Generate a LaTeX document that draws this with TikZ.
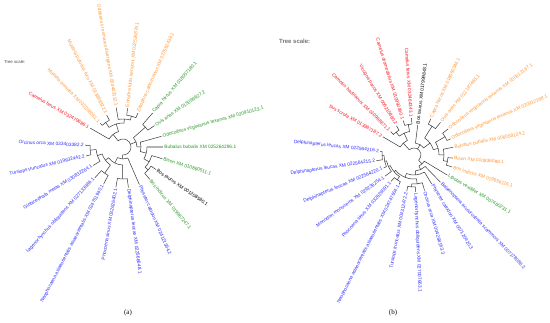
\documentclass[tikz,border=0pt]{standalone}
\usepackage{fontspec}
\setmainfont{Liberation Sans}
\newfontfamily\capfont{Liberation Serif}
\definecolor{tblue}{RGB}{45,45,255}
\definecolor{torange}{RGB}{255,150,50}
\definecolor{tred}{RGB}{250,20,30}
\definecolor{tgreen}{RGB}{40,150,40}
\definecolor{tline}{RGB}{55,55,55}
\tikzset{
  branch/.style={draw=tline, line width=0.5pt},
  lab/.style={font=\fontsize{4.8}{5}\selectfont, inner xsep=1.2pt, inner ysep=0pt},
}
\newcommand{\mkclade}[5]{\draw[branch] (#1:#2pt) -- (#1:#5pt) arc[start angle=#1, end angle=#3, radius=#5pt] -- (#3:#4pt);}
\newcommand{\leafE}[5]{\node[lab,text=#3,anchor=west,rotate=#1] (#4) at (#1:#2pt) {#5};}
\newcommand{\leafW}[5]{\node[lab,text=#3,anchor=east,rotate=#1-180] (#4) at (#1:#2pt) {#5};}
\begin{document}
\begin{tikzpicture}[x=1pt,y=1pt]
\fill[white] (0,0) rectangle (550,322);
\useasboundingbox (0,0) rectangle (550,322);

% ---------------- tree (a) ----------------
\begin{scope}[shift={(123,175)}]
\coordinate (ca) at (0,0);
\draw[branch] (128.2:16pt) -- (128.2:8pt) arc[start angle=128.2, end angle=-91.85, radius=8pt] -- (-91.85:12pt);
\draw[branch] (21:8pt) -- (21:14pt);
\mkclade{150.1}{38}{106.3}{24}{16}
\mkclade{125.3}{30}{87.3}{28}{24}
\mkclade{133.6}{33}{117}{36}{30}
\mkclade{99.8}{40}{74.8}{32}{28}
\mkclade{83.3}{39}{66.3}{37}{32}
\mkclade{41.55}{30}{0.4}{18}{14}
\mkclade{48.9}{45}{34.2}{38}{30}
\mkclade{15.5}{40}{-14.75}{24}{18}
\mkclade{0}{24}{-29.5}{30}{24}
\draw[line width=1.8pt, draw=gray!60] (0:24pt) -- (0:40pt);
\mkclade{-16.6}{41}{-42.35}{34}{30}
\mkclade{-34.3}{40}{-50.4}{42}{34}
\mkclade{-66.5}{41}{-117.2}{18}{12}
\mkclade{-91.2}{32}{-143.2}{22}{18}
\mkclade{-82.4}{41}{-100}{41}{32}
\mkclade{-125}{32}{-161.4}{27}{22}
\mkclade{-117.6}{42}{-132.4}{42}{32}
\mkclade{-148.2}{35}{-174.55}{33}{27}
\mkclade{-166.4}{38}{-182.7}{38}{33}
\leafW{150.1}{38}{tred}{a1}{Camelus ferus XM 032479686.1}
\leafW{133.6}{33}{torange}{a2}{Mustela erminea XM 032208051.1}
\leafW{117}{36}{torange}{a3}{Mustela putorius furo XM 013898322.1}
\leafW{99.8}{40}{torange}{a4}{Odobenus rosmarus divergens XM 004403112.1}
\leafE{83.3}{39}{torange}{a5}{Enhydra lutris kenyoni XM 022526879.1}
\leafE{66.3}{37}{torange}{a6}{Zalophus californianus XM 027592438.1}
\leafE{48.9}{45}{tgreen}{a7}{Capra hircus XM 018057180.1}
\leafE{34.2}{38}{tgreen}{a8}{Ovis aries XM 015099627.2}
\leafE{15.5}{40}{tgreen}{a9}{Odocoileus virginianus texanus XM 020910123.1}
\leafE{0}{40}{tgreen}{a10}{Bubalus bubalis XM 025264296.1}
\leafE{-16.6}{41}{tgreen}{a11}{Bison XM 010860511.1}
\leafE{-34.3}{40}{black}{a12}{Bos taurus XM 001208580.1}
\leafE{-50.4}{42}{tgreen}{a13}{Bos indicus XM 019967247.1}
\leafE{-66.5}{41}{tblue}{a14}{Physeter catodon XM 024121364.2}
\leafE{-82.4}{41}{tblue}{a15}{Delphinapterus leucas XM 022566648.1}
\leafW{-100}{41}{tblue}{a16}{Phocoena sinus XM 032626402.1}
\leafW{-117.6}{42}{tblue}{a17}{Neophocaena asiaeorientalis asiaeorientalis XM 024751940.1}
\leafW{-132.4}{42}{tblue}{a18}{Lagenorhynchus obliquidens XM 027133986.1}
\leafW{-148.2}{35}{tblue}{a19}{Globicephala melas XM 030832264.1}
\leafW{-166.4}{38}{tblue}{a20}{Tursiops truncatus XM 019932442.2}
\leafW{177.3}{38}{tblue}{a21}{Orcinus orca XM 033403382.2}
\end{scope}

% ---------------- tree (b) ----------------
\begin{scope}[shift={(414,167)}]
\coordinate (cb) at (0,0);
\draw[branch] (132:16pt) -- (132:7pt) arc[start angle=132, end angle=-48.3, radius=7pt] -- (-48.3:12pt);
\draw[branch] (59.8:7pt) -- (59.8:12pt);
\mkclade{149.7}{36}{114.3}{24}{16}
\mkclade{128}{29}{100.65}{31}{24}
\mkclade{135}{33}{121}{34}{29}
\mkclade{107.4}{36}{93.9}{37}{31}
\mkclade{82.9}{30}{36.6}{20}{12}
\mkclade{57.95}{34}{15.34}{25}{20}
\mkclade{65}{40}{50.9}{42}{34}
\mkclade{30.55}{36}{0.125}{30}{25}
\mkclade{37.3}{43}{23.8}{40}{36}
\mkclade{11.2}{40}{-10.95}{34}{30}
\mkclade{-4.5}{39}{-17.4}{40}{34}
\mkclade{-31.1}{39}{-65.55}{16}{12}
\mkclade{-45.8}{38}{-85.3}{20}{16}
\mkclade{-58.6}{34}{-112}{24}{20}
\mkclade{-83.9}{29}{-140}{26}{24}
\mkclade{-73.4}{37}{-94.4}{32}{29}
\mkclade{-87.5}{37}{-101.3}{37}{32}
\mkclade{-124}{30}{-155.9}{28}{26}
\mkclade{-117}{33}{-131}{35}{30}
\mkclade{-143.9}{36}{-167.9}{30}{28}
\mkclade{-157}{33}{-178.8}{32}{30}
\mkclade{-171.4}{38}{-186.2}{34}{32}
\leafW{149.7}{36}{tred}{b1}{Sus scrofa XM 013987187.2}
\leafW{135}{33}{tred}{b2}{Camelus bactrianus XM 010968871.1}
\leafW{121}{34}{tred}{b3}{Vicugna pacos XM 006215880.2}
\leafW{107.4}{36}{tred}{b4}{Camelus dromedarius XM 010992460.1}
\leafW{93.9}{37}{tred}{b5}{Camelus ferus XM 032464343.1}
\leafE{82.9}{30}{black}{b6}{Bos taurus XM 017999843.1}
\leafE{65}{40}{torange}{b7}{Capra hircus XM 018060344.1}
\leafE{50.9}{42}{torange}{b8}{Ovis aries XM 012187465.1}
\leafE{37.3}{43}{torange}{b9}{Odocoileus virginianus texanus XM 020912167.1}
\leafE{23.8}{40}{torange}{b10}{Odocoileus virginianus texanus XM 020912168.1}
\leafE{11.2}{40}{torange}{b11}{Bubalus bubalis XM 006058124.2}
\leafE{-4.5}{39}{torange}{b12}{Bison XM 010836088.1}
\leafE{-17.4}{40}{torange}{b13}{Bos indicus XM 019956116.1}
\leafE{-31.1}{39}{tgreen}{b14}{Lipotes vexillifer XM 007460231.1}
\leafE{-45.8}{38}{tblue}{b15}{Balaenoptera acutorostrata scammoni XM 007178086.2}
\leafE{-58.6}{34}{tblue}{b16}{Physeter catodon XM 007120420.3}
\leafE{-73.4}{37}{tblue}{b17}{Orcinus orca XM 004268163.3}
\leafE{-87.5}{37}{tblue}{b18}{Lagenorhynchus obliquidens XM 027007663.1}
\leafW{-101.3}{37}{tblue}{b19}{Tursiops truncatus XM 004312472.2}
\leafW{-117}{33}{tblue}{b20}{Neophocaena asiaeorientalis asiaeorientalis XM 024747604.1}
\leafW{-131}{35}{tblue}{b21}{Phocoena sinus XM 032629091.1}
\leafW{-143.9}{36}{tblue}{b22}{Monodon monoceros XM 029236254.1}
\leafW{-157}{33}{tblue}{b23}{Delphinapterus leucas XM 022564220.1}
\leafW{-171.4}{38}{tblue}{b24}{Delphinapterus leucas XM 022564215.2}
\leafW{173.8}{34}{tblue}{b25}{Delphinapterus leucas XM 022564216.2}
\end{scope}

\node[font=\fontsize{4.3}{5}\selectfont, text=black!70, anchor=west, inner sep=0pt] (tsa) at (4,260) {Tree scale:};
\node[font=\bfseries\fontsize{6}{7}\selectfont, text=black!55, anchor=west, inner sep=0pt] (tsb) at (279,281) {Tree scale:};
\node[font=\capfont\fontsize{7}{8}\selectfont, inner sep=0pt] (capa) at (128,9) {(a)};
\node[font=\capfont\fontsize{7}{8}\selectfont, inner sep=0pt] (capb) at (393,9) {(b)};
\end{tikzpicture}
\end{document}
